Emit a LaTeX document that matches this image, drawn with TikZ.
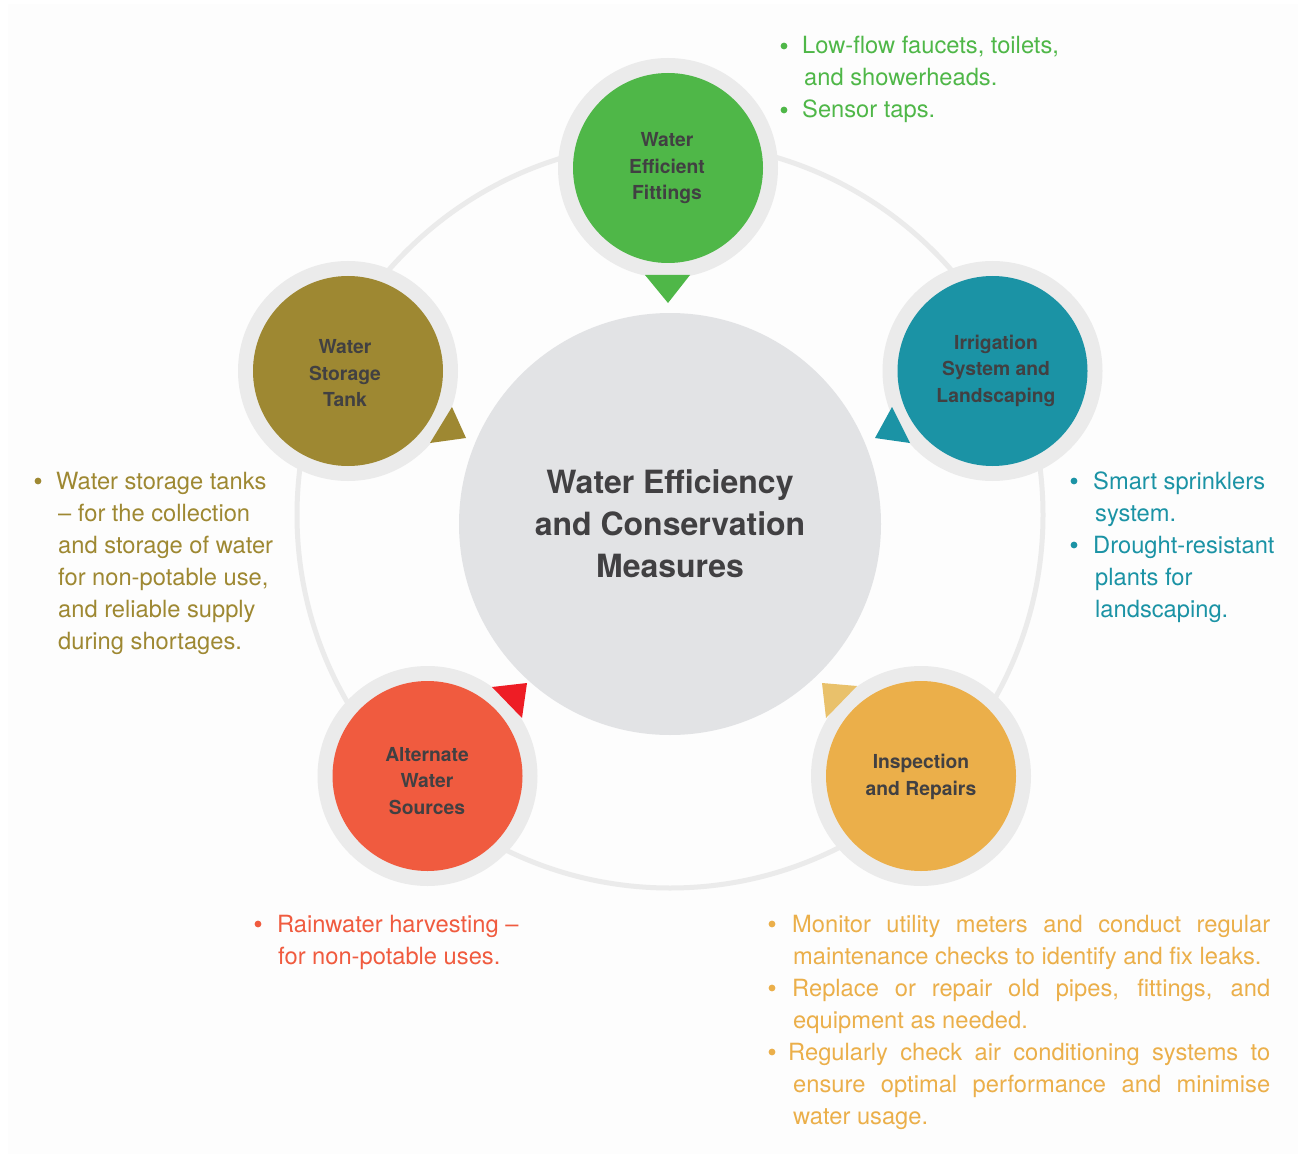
\documentclass[tikz,border=0pt]{standalone}
\usepackage{fontspec}
\setmainfont{TeX Gyre Heros}
\definecolor{bgcol}{HTML}{FDFDFD}
\definecolor{ringgray}{HTML}{EBEBEB}
\definecolor{centergray}{HTML}{E2E3E5}
\definecolor{labeltext}{HTML}{414042}
\definecolor{greenc}{HTML}{4FB748}
\definecolor{olivec}{HTML}{9E8832}
\definecolor{tealc}{HTML}{1B93A5}
\definecolor{redc}{HTML}{F05B3F}
\definecolor{orangec}{HTML}{EBAF4A}
\definecolor{redptr}{HTML}{EE1D25}
\definecolor{orangeptr}{HTML}{E9C16B}
\tikzset{
  satlabel/.style={inner sep=0pt, align=center,
    font=\fontsize{19.3}{26.5}\selectfont\bfseries, text=labeltext},
  satring/.style={fill=ringgray},
  txt/.style={anchor=base west, inner sep=0pt, font=\fontsize{23.7}{32}\selectfont},
}
\newcommand{\jline}[1]{\makebox[478pt][s]{#1}}
\begin{document}
\begin{tikzpicture}[x=1pt,y=-1pt]
\useasboundingbox (0,0) rectangle (1306,1158);
\fill[white] (0,0) rectangle (1306,1158);
\fill[bgcol] (8,4) rectangle (1298,1154);

% big ring
\draw[ringgray, line width=5pt] (670,515) circle[radius=373pt];

% center circle
\node[circle, fill=centergray, minimum size=422pt, inner sep=0pt, align=center,
  font=\fontsize{32}{42}\selectfont\bfseries, text=labeltext] (center) at (670,524)
  {Water Efficiency\\and Conservation\\Measures};

% green
\fill[satring] (668,168) circle[radius=110pt];
\fill[greenc] (645,275) -- (668,303) -- (690,275) -- cycle;
\fill[greenc] (668,168) circle[radius=95pt];
\node[satlabel] (fit) at (667,168.5) {Water\\Efficient\\Fittings};

% olive
\fill[satring] (348,371) circle[radius=110pt];
\fill[olivec] (452,407) -- (466,438) -- (430,443) -- cycle;
\fill[olivec] (348,371) circle[radius=95pt];
\node[satlabel] (tank) at (345,373.5) {Water\\Storage\\Tank};

% teal
\fill[satring] (992.5,371) circle[radius=110pt];
\fill[tealc] (892,407) -- (875,438) -- (910,443) -- cycle;
\fill[tealc] (992.5,371) circle[radius=95pt];
\node[satlabel] (irr) at (996,370.5) {Irrigation\\System and\\Landscaping};

% red
\fill[satring] (427.5,776) circle[radius=110pt];
\fill[redptr] (492,687) -- (527,683) -- (522,718) -- cycle;
\fill[redc] (427.5,776) circle[radius=95pt];
\node[satlabel] (alt) at (427,781) {Alternate\\Water\\Sources};

% orange
\fill[satring] (921,776) circle[radius=110pt];
\fill[orangeptr] (857,686) -- (822,683) -- (826,718) -- cycle;
\fill[orangec] (921,776) circle[radius=95pt];
\node[satlabel] (insp) at (921,777) {Inspection\\and Repairs};

% green text
\fill[greenc] (784,46) circle[radius=3.4pt];
\fill[greenc] (784,110) circle[radius=3.4pt];
\node[txt, text=greenc] (g1) at (802,54) {Low-flow faucets, toilets,};
\node[txt, text=greenc] (g2) at (804,86) {and showerheads.};
\node[txt, text=greenc] (g3) at (802,118) {Sensor taps.};

% teal text
\fill[tealc] (1074,481) circle[radius=3.4pt];
\fill[tealc] (1074,545) circle[radius=3.4pt];
\node[txt, text=tealc] (t1) at (1093,489) {Smart sprinklers};
\node[txt, text=tealc] (t2) at (1095,521) {system.};
\node[txt, text=tealc] (t3) at (1093,553) {Drought-resistant};
\node[txt, text=tealc] (t4) at (1095,585) {plants for};
\node[txt, text=tealc] (t5) at (1095,617) {landscaping.};

% olive text
\fill[olivec] (38,481) circle[radius=3.4pt];
\node[txt, text=olivec] (o1) at (56,489) {Water storage tanks};
\node[txt, text=olivec] (o2) at (58,521) {– for the collection};
\node[txt, text=olivec] (o3) at (58,553) {and storage of water};
\node[txt, text=olivec] (o4) at (58,585) {for non-potable use,};
\node[txt, text=olivec] (o5) at (58,617) {and reliable supply};
\node[txt, text=olivec] (o6) at (58,649) {during shortages.};

% red text
\fill[redc] (258,924) circle[radius=3.4pt];
\node[txt, text=redc] (r1) at (277,932) {Rainwater harvesting –};
\node[txt, text=redc] (r2) at (278,964) {for non-potable uses.};

% orange text
\fill[orangec] (772,924) circle[radius=3.4pt];
\fill[orangec] (772,988) circle[radius=3.4pt];
\fill[orangec] (772,1052) circle[radius=3.4pt];
\node[txt, text=orangec] (p1) at (792,932) {\jline{Monitor utility meters and conduct regular}};
\node[txt, text=orangec] (p2) at (793,964) {maintenance checks to identify and fix leaks.};
\node[txt, text=orangec] (p3) at (792,996) {\jline{Replace or repair old pipes, fittings, and}};
\node[txt, text=orangec] (p4) at (793,1028) {equipment as needed.};
\node[txt, text=orangec] (p5) at (788,1060) {\makebox[482pt][s]{Regularly check air conditioning systems to}};
\node[txt, text=orangec] (p6) at (793,1092) {\makebox[477pt][s]{ensure optimal performance and minimise}};
\node[txt, text=orangec] (p7) at (793,1124) {water usage.};
\end{tikzpicture}
\end{document}
